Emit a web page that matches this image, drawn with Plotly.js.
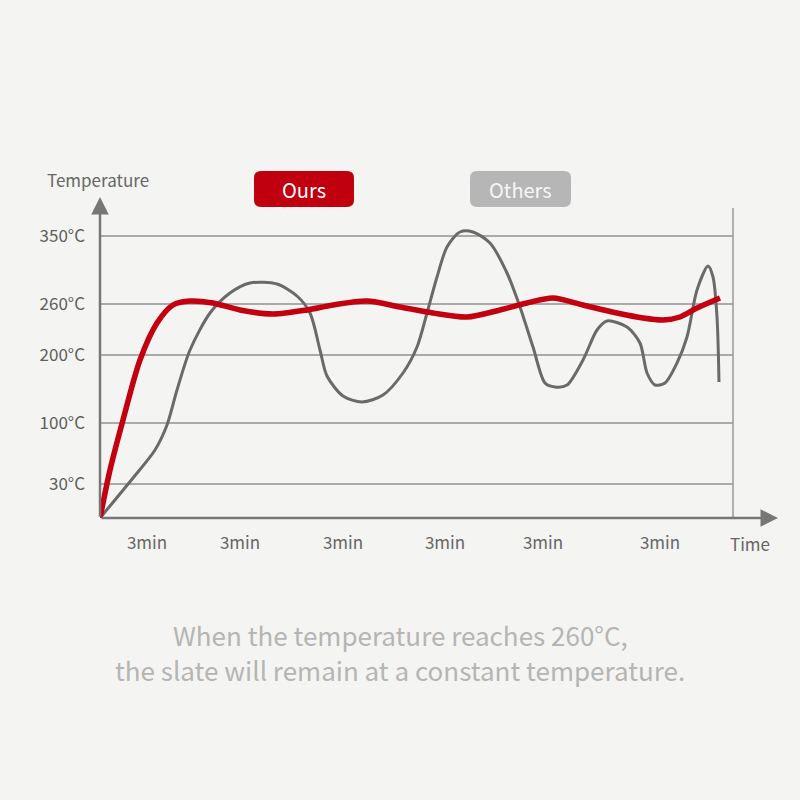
<!DOCTYPE html>
<html>
<head>
<meta charset="utf-8">
<script src="https://cdn.plot.ly/plotly-3.0.1.min.js"></script>
<style>html,body{margin:0;padding:0;background:#f4f4f2;}#chart{width:800px;height:800px;}</style>
</head>
<body>
<div id="chart"></div>
<script>
// Time positions (scale units along the time axis) and temperature positions (scale units on the drawn temperature scale)
const oursX = [0,10,23,40,57,73,90,113,140,173,207,233,267,300,333,367,400,427,453,483,517,543,563,580,597,620];
const oursY = [0,48,98,158,195,213,217,215,208,204,208,213,217,211,205,201,208,215,220,213,205,200,198,201,210,220];
const othersX = [0,33,55,67,77,90,110,130,150,177,197,210,220,227,243,262,283,303,317,327,337,347,360,373,390,407,420,433,445,455,467,483,497,507,527,540,547,555,565,577,587,597,608,613,617,619];
const othersY = [0,40,68,93,128,168,205,225,235,234,222,205,168,142,122,116,123,145,171,205,241,271,286,286,275,245,211,171,135,131,133,158,188,197,191,175,145,133,135,155,181,228,252,241,201,136];
const yTickVals = [34,95,163,214,282];
const yTickText = ['30°C','100°C','200°C','260°C','350°C'];
const xTickVals = [47,140,243,345,443,560];
const xTickText = ['3min','3min','3min','3min','3min','3min'];
const seriesNames = ['Ours','Others'];
const captionLines = ['When the temperature reaches 260°C,','the slate will remain at a constant temperature.'];

const FONT = '"Noto Sans CJK SC", "Noto Sans", sans-serif';
const W = 633, H = 310;
function roundRect(x0,y0,x1,y1,r){
  const rx=r/W, ry=r/H;
  return `M ${x0+rx},${y0} L ${x1-rx},${y0} Q ${x1},${y0} ${x1},${y0+ry} L ${x1},${y1-ry} Q ${x1},${y1} ${x1-rx},${y1} L ${x0+rx},${y1} Q ${x0},${y1} ${x0},${y1-ry} L ${x0},${y0+ry} Q ${x0},${y0} ${x0+rx},${y0} Z`;
}
const px = x => (x-100)/W;
const py = y => (518-y)/H;
function label(x, y, text, size, color){
  return {xref:'paper', yref:'paper', x:px(x), y:py(y), xanchor:'center', yanchor:'middle', text:text, showarrow:false, font:{size:size, color:color, family:FONT}};
}

const traces = [
  {x: othersX, y: othersY, mode:'lines', name: seriesNames[1], line:{color:'#6a6a6a', width:3, shape:'spline', smoothing:0.8}, hoverinfo:'skip'},
  {x: oursX, y: oursY, mode:'lines', name: seriesNames[0], line:{color:'#c2000f', width:5.5, shape:'spline', smoothing:0.8}, hoverinfo:'skip'}
];

const layout = {
  width:800, height:800,
  paper_bgcolor:'#f4f4f2', plot_bgcolor:'#f4f4f2',
  margin:{l:100, r:67, t:208, b:282},
  showlegend:false,
  font:{family:FONT, color:'#666'},
  xaxis:{range:[0,633], showgrid:false, zeroline:false, showline:false,
    tickmode:'array', tickvals:xTickVals, ticktext:xTickText, ticks:'', ticklabelstandoff:13,
    tickfont:{size:17, color:'#666', family:FONT}, fixedrange:true},
  yaxis:{range:[0,310], showgrid:true, gridcolor:'#aaaaaa', gridwidth:2, zeroline:false, showline:false,
    tickmode:'array', tickvals:yTickVals, ticktext:yTickText, ticks:'', ticklabelstandoff:14,
    tickfont:{size:17, color:'#5e5e5e', family:FONT}, fixedrange:true},
  shapes:[
    {type:'line', xref:'paper', yref:'paper', x0:1, x1:1, y0:0, y1:1, line:{color:'#9a9a9a', width:1.5}},
    {type:'path', xref:'paper', yref:'paper', path: roundRect(px(254), py(207), px(354), py(171), 7), fillcolor:'#c0000e', line:{width:0}},
    {type:'path', xref:'paper', yref:'paper', path: roundRect(px(470), py(207), px(571), py(171), 7), fillcolor:'#b6b6b6', line:{width:0}}
  ],
  annotations:[
    {xref:'paper', yref:'paper', x:px(778), y:0, ax:-678, ay:0, text:'', showarrow:true, arrowhead:2, arrowsize:1.4, arrowwidth:2.5, arrowcolor:'#777'},
    {xref:'paper', yref:'paper', x:0, y:py(197), ax:0, ay:321, text:'', showarrow:true, arrowhead:2, arrowsize:1.4, arrowwidth:2.5, arrowcolor:'#777'},
    label(750, 543, 'Time', 17, '#666'),
    label(98, 179, 'Temperature', 17, '#666'),
    label(304, 189, seriesNames[0], 20, '#ffffff'),
    label(520, 189, seriesNames[1], 20, '#f6f6f6'),
    label(400, 634, captionLines[0], 26, '#b5b5b5'),
    label(400, 669, captionLines[1], 26, '#b5b5b5')
  ]
};
Plotly.newPlot('chart', traces, layout, {staticPlot:true, displayModeBar:false});
</script>
</body>
</html>
